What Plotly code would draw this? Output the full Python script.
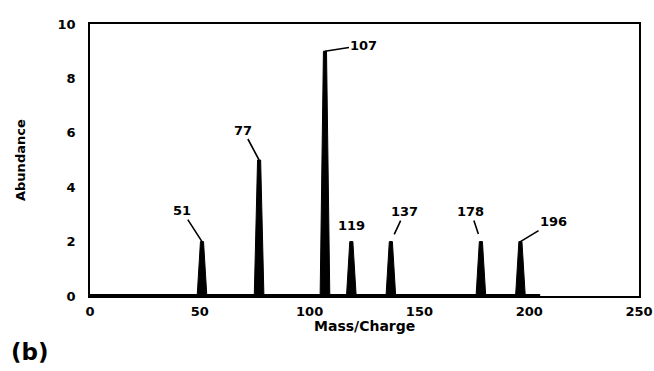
import plotly.graph_objects as go

# Data
mass = [51, 77, 107, 119, 137, 178, 196]
abundance = [2, 5, 9, 2, 2, 2, 2]
peak_labels = ["51", "77", "107", "119", "137", "178", "196"]
scan_range = [0, 205]
x_ticks = [0, 50, 100, 150, 200, 250]
y_ticks = [0, 2, 4, 6, 8, 10]

# label offsets in pixels (style), None -> no leader line
label_offsets = {
    "51": (-20, -31, 0),
    "77": (-16, -30, 0),
    "107": (39, -6, 0),
    "119": None,
    "137": (14, -30, 8),
    "178": (-10, -30, 8),
    "196": (33, -20, 0),
}

FONT = "DejaVu Sans, sans-serif"

# Build tapered peak polygons
base_half = 2.2
top_half = 0.7
px, py = [], []
for m, h in zip(mass, abundance):
    px += [m - base_half, m - top_half, m + top_half, m + base_half, m - base_half, None]
    py += [0, h, h, 0, 0, None]

fig = go.Figure()
fig.add_trace(go.Scatter(
    x=px, y=py, mode="lines", fill="toself", fillcolor="black",
    line=dict(color="black", width=1), hoverinfo="skip", showlegend=False))
fig.add_trace(go.Scatter(
    x=scan_range, y=[0, 0], mode="lines",
    line=dict(color="black", width=4), showlegend=False, cliponaxis=False))

annotations = []
for m, h, lab in zip(mass, abundance, peak_labels):
    off = label_offsets[lab]
    if off is None:
        annotations.append(dict(x=m, y=h, xref="x", yref="y", text=lab,
                                showarrow=False, yanchor="bottom", yshift=7,
                                font=dict(family=FONT, size=13, color="black", weight="bold")))
    else:
        ax, ay, so = off
        annotations.append(dict(x=m, y=h, xref="x", yref="y", text=lab,
                                showarrow=True, arrowhead=0, arrowwidth=1.6,
                                arrowcolor="black", ax=ax, ay=ay, standoff=so,
                                font=dict(family=FONT, size=13, color="black", weight="bold")))

annotations.append(dict(text="Abundance", xref="paper", yref="paper", x=0, y=0.5,
                        xshift=-70, textangle=-90, showarrow=False,
                        xanchor="center", yanchor="middle",
                        font=dict(family=FONT, size=13, color="black", weight="bold")))
annotations.append(dict(text="Mass/Charge", xref="paper", yref="paper", x=0.5, y=0,
                        yshift=-30, showarrow=False, xanchor="center", yanchor="middle",
                        font=dict(family=FONT, size=14, color="black", weight="bold")))
annotations.append(dict(text="(b)", xref="paper", yref="paper", x=0, y=0,
                        xshift=-60, yshift=-56, showarrow=False,
                        xanchor="center", yanchor="middle",
                        font=dict(family=FONT, size=23, color="black", weight="bold")))

fig.update_layout(
    width=654, height=371,
    margin=dict(l=90, r=15, t=24, b=75, autoexpand=False),
    paper_bgcolor="white", plot_bgcolor="white",
    annotations=annotations,
    showlegend=False,
)
fig.update_xaxes(range=[0, 250], tickvals=x_ticks, showgrid=False, zeroline=False,
                 showline=True, mirror=True, linecolor="black", linewidth=1.5,
                 ticks="", ticklabelstandoff=3, ticklabeloverflow="allow",
                 automargin=False,
                 tickfont=dict(family=FONT, size=13, color="black", weight="bold"))
fig.update_yaxes(range=[0, 10], tickvals=y_ticks, showgrid=False, zeroline=False,
                 showline=True, mirror=True, linecolor="black", linewidth=1.5,
                 ticks="", ticklabelstandoff=10, ticklabeloverflow="allow",
                 automargin=False,
                 tickfont=dict(family=FONT, size=13, color="black", weight="bold"))

fig.write_html("out.html")
